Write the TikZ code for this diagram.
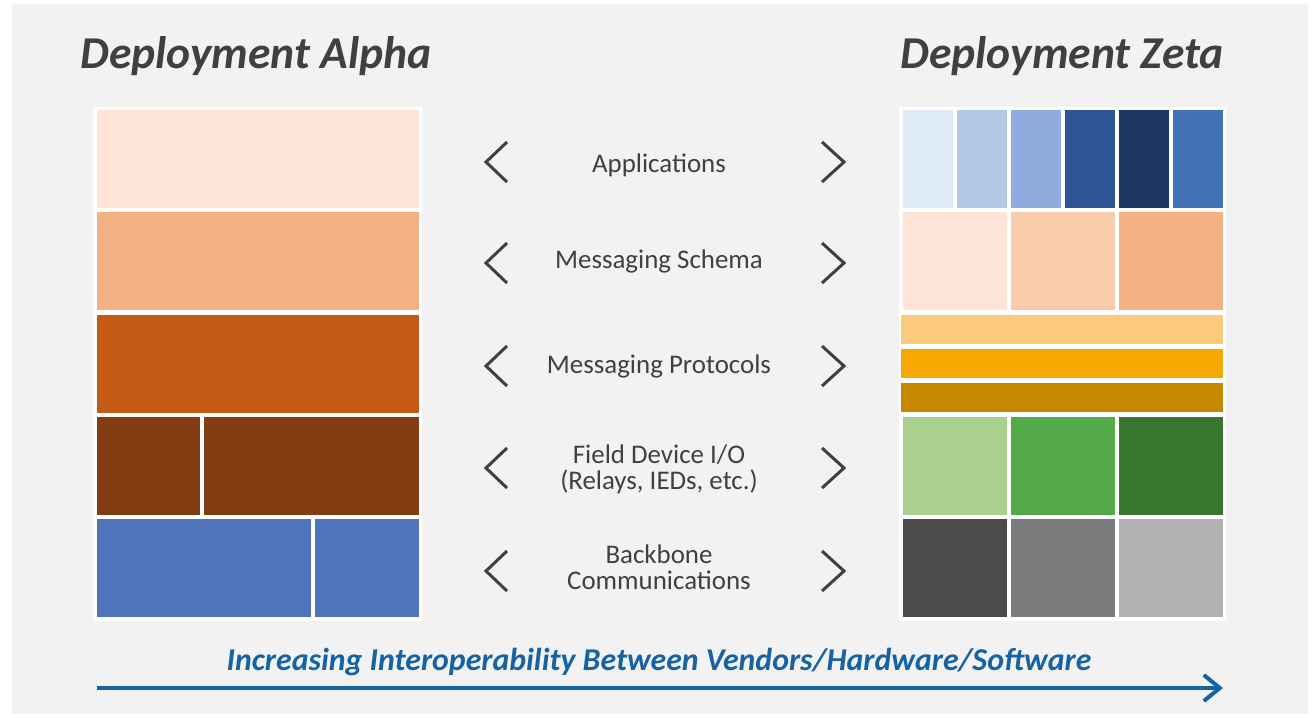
\documentclass[tikz,border=0pt]{standalone}
\usepackage{fontspec}
\setmainfont{Carlito}
\usepackage{xcolor}
\usetikzlibrary{arrows.meta, positioning}

\definecolor{bgGray}{HTML}{F2F2F2}
\definecolor{txtGray}{HTML}{404040}
\definecolor{flowBlue}{HTML}{1563A3}
% alpha stack
\definecolor{peachA}{HTML}{FDE4D6}
\definecolor{peachB}{HTML}{F4B183}
\definecolor{rustA}{HTML}{C55A14}
\definecolor{rustB}{HTML}{843C12}
\definecolor{steelA}{HTML}{4F74B9}
% zeta stack
\definecolor{blueA}{HTML}{DEEBF7}
\definecolor{blueB}{HTML}{B4C7E7}
\definecolor{blueC}{HTML}{8FAADC}
\definecolor{blueD}{HTML}{2F5597}
\definecolor{blueE}{HTML}{1C3761}
\definecolor{blueF}{HTML}{4271B8}
\definecolor{peachC}{HTML}{F8CBAD}
\definecolor{amberA}{HTML}{FCCA7C}
\definecolor{amberB}{HTML}{F7A800}
\definecolor{amberC}{HTML}{C58800}
\definecolor{greenA}{HTML}{A9D08E}
\definecolor{greenB}{HTML}{54A948}
\definecolor{greenC}{HTML}{397731}
\definecolor{grayA}{HTML}{4B4B4A}
\definecolor{grayB}{HTML}{7B7B7B}
\definecolor{grayC}{HTML}{B1B1B1}

\begin{document}
\begin{tikzpicture}[x=0.5pt, y=-0.5pt,
    layer/.style={rectangle, inner sep=0pt, outer sep=0pt, anchor=north west, minimum height=49pt},
    frame/.style={rectangle, fill=white, inner sep=0pt, outer sep=0pt, anchor=north west, minimum height=257pt},
    lbl/.style={text=txtGray, font=\fontsize{13.45}{13}\selectfont, align=center},
    title/.style={text=txtGray, font=\fontsize{22.8}{26}\selectfont\bfseries\itshape, anchor=base},
    chev/.style={draw=txtGray, line width=1.5pt}]
    \useasboundingbox[fill=white] (0,0) rectangle (1314,718);
    \fill[bgGray] (12,4) rectangle (1308,714);

    \node[title] (alpha) at (256,68) {Deployment Alpha};
    \node[title] (zeta) at (1062,68) {Deployment Zeta};

    % Deployment Alpha
    \node[frame, minimum width=164.5pt] (fa) at (93,107) {};
    \node[layer, fill=peachA, minimum width=161pt] (a1) at (97,110) {};
    \node[layer, fill=peachB, minimum width=161pt] (a2) at (97,212) {};
    \node[layer, fill=rustA, minimum width=161pt] (a3) at (97,315) {};
    \node[layer, fill=rustB, minimum width=51.5pt] (a4) at (97,417) {};
    \node[layer, fill=rustB, minimum width=107.5pt, right=2pt of a4] (a5) {};
    \node[layer, fill=steelA, minimum width=107pt] (a6) at (97,519) {};
    \node[layer, fill=steelA, minimum width=52pt, right=2pt of a6] (a7) {};

    % Deployment Zeta
    \node[frame, minimum width=163.5pt] (fz) at (899,107) {};
    \node[layer, fill=blueA, minimum width=25pt] (z1) at (903,110) {};
    \node[layer, fill=blueB, minimum width=25pt, right=2pt of z1] (z2) {};
    \node[layer, fill=blueC, minimum width=25pt, right=2pt of z2] (z3) {};
    \node[layer, fill=blueD, minimum width=25pt, right=2pt of z3] (z4) {};
    \node[layer, fill=blueE, minimum width=25pt, right=2pt of z4] (z5) {};
    \node[layer, fill=blueF, minimum width=25pt, right=2pt of z5] (z6) {};
    \node[layer, fill=peachA, minimum width=52pt] (s1) at (903,212) {};
    \node[layer, fill=peachC, minimum width=52pt, right=2pt of s1] (s2) {};
    \node[layer, fill=peachB, minimum width=52pt, right=2pt of s2] (s3) {};
    \node[layer, fill=amberA, minimum width=161pt, minimum height=14.5pt] (p1) at (901,315) {};
    \node[layer, fill=amberB, minimum width=161pt, minimum height=14.5pt] (p2) at (901,349) {};
    \node[layer, fill=amberC, minimum width=161pt, minimum height=14.5pt] (p3) at (901,383) {};
    \node[layer, fill=greenA, minimum width=52pt] (f1) at (903,417) {};
    \node[layer, fill=greenB, minimum width=52pt, right=2pt of f1] (f2) {};
    \node[layer, fill=greenC, minimum width=52pt, right=2pt of f2] (f3) {};
    \node[layer, fill=grayA, minimum width=52pt] (b1) at (903,519) {};
    \node[layer, fill=grayB, minimum width=52pt, right=2pt of b1] (b2) {};
    \node[layer, fill=grayC, minimum width=52pt, right=2pt of b2] (b3) {};

    % layer names
    \node[lbl] (apps) at (659,165) {Applications};
    \node[lbl] (schema) at (659,261) {Messaging Schema};
    \node[lbl] (proto) at (659,366) {Messaging Protocols};
    \node[lbl] (fieldio) at (659,469) {Field Device I/O\\(Relays, IEDs, etc.)};
    \node[lbl] (backbone) at (659,567) {Backbone\\Communications};

    \foreach \y in {162,263,366,468,571}{
        \draw[chev] (507,\y-20) -- (486,\y) -- (507,\y+20);
        \draw[chev] (822,\y-20) -- (844,\y) -- (822,\y+20);
    }

    \node[text=flowBlue, font=\fontsize{15.9}{18}\selectfont\bfseries\itshape, anchor=base] (trend) at (659,670)
        {Increasing Interoperability Between Vendors/Hardware/Software};
    \coordinate (start) at (97,688);
    \coordinate (stop) at (1223,688);
    \draw[flowBlue, line width=2pt, -{Straight Barb[length=8pt, width=13pt]}] (start) -- (stop);
\end{tikzpicture}
\end{document}
